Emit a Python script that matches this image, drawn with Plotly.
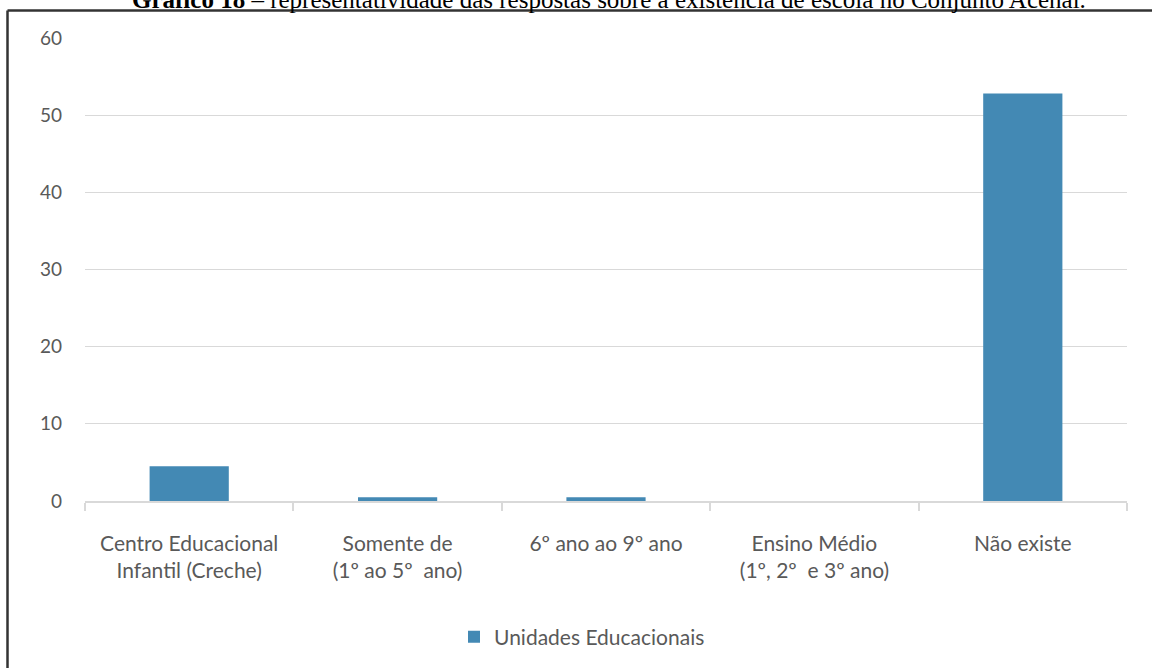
import plotly.graph_objects as go

categories = [
    "Centro Educacional<br>Infantil (Creche)",
    "Somente de<br>(1º ao 5º  ano)",
    "6º ano ao 9º ano",
    "Ensino Médio<br>(1º, 2º  e 3º ano)",
    "Não existe",
]
values = [4.5, 0.5, 0.5, 0, 52.8]
series_name = "Unidades Educacionais"
title_text = ("<b>Gráfico 18</b> – representatividade das respostas sobre a "
              "existência de escola no Conjunto Acenal.")

W, H = 1152, 668
L, R, T, B = 85, 25, 38, 166
pw, ph = W - L - R, H - T - B

def px_x(p):
    return (p - L) / pw

def px_y(p):
    return (H - B - p) / ph

fig = go.Figure()
fig.add_trace(go.Bar(
    x=categories, y=values, name=series_name,
    marker=dict(color="#4389B4", line=dict(width=0)),
    width=0.38, showlegend=True,
))

font_family = "Lato, 'Open Sans', sans-serif"
fig.update_layout(
    width=W, height=H,
    margin=dict(l=L, r=R, t=T, b=B),
    paper_bgcolor="white", plot_bgcolor="white",
    font=dict(family=font_family, color="#595959", size=18),
    showlegend=True,
    legend=dict(orientation="h", x=px_x(582), xanchor="center",
                y=px_y(637), yanchor="middle",
                font=dict(size=21, color="#595959")),
    xaxis=dict(
        showline=True, linecolor="#D9D9D9", linewidth=1.5,
        ticks="outside", tickson="boundaries", ticklen=8,
        tickcolor="#D9D9D9", tickwidth=1.5,
        showgrid=False, ticklabelstandoff=23,
        tickfont=dict(size=21, color="#595959"),
    ),
    yaxis=dict(
        range=[0, 60], dtick=10, showgrid=True, gridcolor="#D9D9D9",
        gridwidth=1, zeroline=False, showline=False,
        ticks="", ticklabelstandoff=22,
        tickfont=dict(size=19, color="#595959"),
    ),
    bargap=0.62,
)

# Document frame (partial border around the chart image)
frame_color = "#333333"
fig.add_shape(type="line", xref="paper", yref="paper",
              x0=px_x(7.5), x1=px_x(1160), y0=px_y(10.5), y1=px_y(10.5),
              line=dict(color=frame_color, width=2.5))
fig.add_shape(type="line", xref="paper", yref="paper",
              x0=px_x(7.5), x1=px_x(7.5), y0=px_y(10.5), y1=px_y(680),
              line=dict(color=frame_color, width=2.5))

# Caption at top, cut off by the page edge as in the reference
fig.add_annotation(text=title_text, xref="paper", yref="paper",
                   x=px_x(609), y=px_y(-1), xanchor="center", yanchor="middle",
                   showarrow=False,
                   font=dict(family="'Liberation Serif', 'Times New Roman', serif",
                             size=25, color="#000000"))

fig.write_html("out.html",
               config={"displayModeBar": False},
               post_script="document.body.style.margin='0';document.body.style.overflow='hidden';")
